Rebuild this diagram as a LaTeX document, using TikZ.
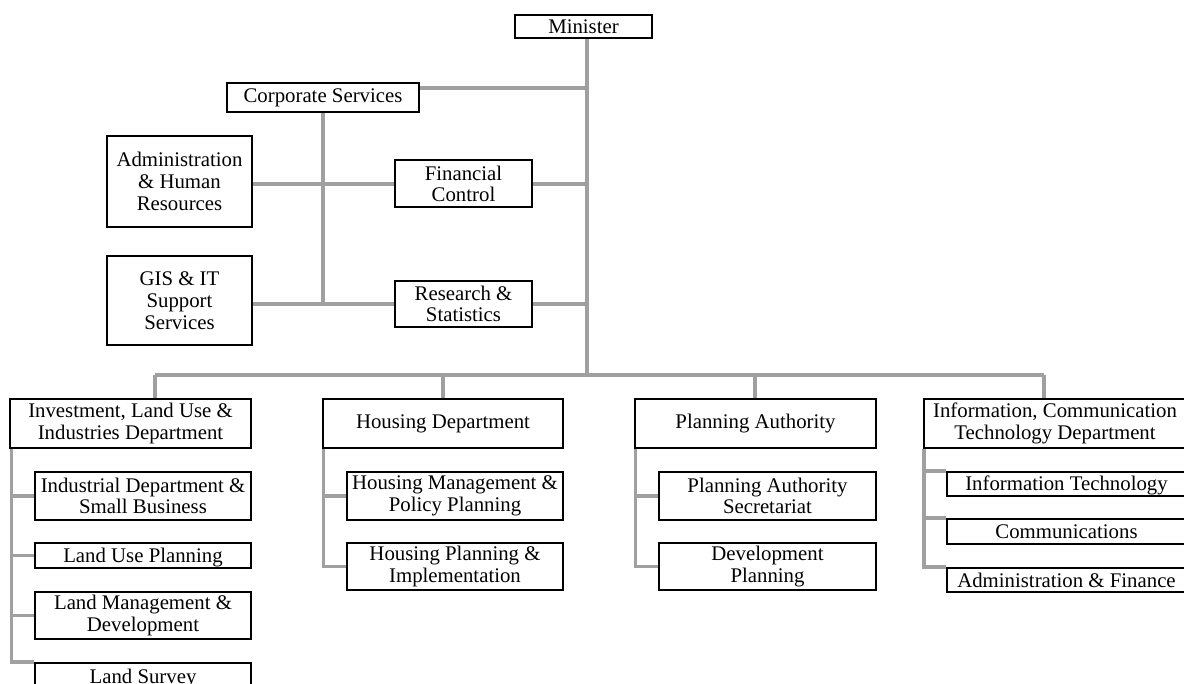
\documentclass[tikz,border=0pt]{standalone}
\usepackage{fontspec}
\setmainfont{Liberation Serif}
\usepackage{tikz}

\definecolor{linkgray}{RGB}{160,160,160}

\tikzset{
  unit/.style={draw, line width=2pt, inner sep=0pt, align=center,
    font=\fontsize{20.8}{21.7}\selectfont},
  slim/.style={text height=14pt, text depth=0pt},
  link/.style={draw=linkgray, line width=3.6pt},
}

\begin{document}
\begin{tikzpicture}[x=1pt, y=-1pt]

    \useasboundingbox (0,0) rectangle (1184,684);
    \clip (0,0) rectangle (1184,684);

    \node[unit, minimum width=137pt, minimum height=23pt] (minister) at (583.5,26.5) {Minister};

    \node[unit, minimum width=192pt, minimum height=29pt] (corp) at (323,97.5) {Corporate Services};

    \node[unit, minimum width=145pt, minimum height=91pt] (admhr) at (179.5,181.5) {Administration\\ \& Human\\ Resources};

    \node[unit, minimum width=137pt, minimum height=47pt] (fin) at (463.5,184) {Financial\\ Control};

    \node[unit, minimum width=145pt, minimum height=89pt] (gis) at (179.5,300.5) {GIS \& IT\\ Support\\ Services};

    \node[unit, minimum width=137pt, minimum height=46pt] (res) at (463.5,304) {Research \&\\ Statistics};




    \begin{scope}[xshift=10pt]

      \node[unit, minimum width=241pt, minimum height=49pt] (inv) at (120.5,423.5) {Investment, Land Use \&\\ Industries Department};
      \coordinate (invdrop) at (145,375);

      \node[unit, minimum width=216pt, minimum height=48pt] (isb) at (133,496) {Industrial Department \&\\ Small Business};
      \node[unit, slim, minimum width=216pt, minimum height=25pt] (lup) at (133,555.5) {Land Use Planning};
      \node[unit, minimum width=216pt, minimum height=47pt] (lmd) at (133,615.5) {Land Management \&\\ Development};
      \node[unit, minimum width=216pt, minimum height=48pt] (ls) at (133,687) {Land Survey\\ \phantom{L}};

      \draw[link] ([xshift=2.5pt]inv.south west) |- (isb.west);
      \draw[link] ([xshift=2.5pt]inv.south west) |- (lup.west);
      \draw[link] ([xshift=2.5pt]inv.south west) |- (lmd.west);
      \draw[link] ([xshift=2.5pt]inv.south west) |- (ls.north west);

    \end{scope}



    \begin{scope}[xshift=323pt]

      \node[unit, minimum width=240pt, minimum height=49pt] (hou) at (120,423.5) {Housing Department};
      \coordinate (houdrop) at (120,375);

      \node[unit, minimum width=216pt, minimum height=48pt] (hmp) at (132,496) {Housing Management \&\\ Policy Planning};
      \node[unit, minimum width=216pt, minimum height=47pt] (hpi) at (132,566.5) {Housing Planning \&\\ Implementation};

      \draw[link] ([xshift=1.5pt]hou.south west) |- (hmp.west);
      \draw[link] ([xshift=1.5pt]hou.south west) |- (hpi.west);

    \end{scope}



    \begin{scope}[xshift=635pt]

      \node[unit, minimum width=241pt, minimum height=49pt] (pla) at (120.5,423.5) {Planning Authority};
      \coordinate (pladrop) at (120,375);

      \node[unit, minimum width=217pt, minimum height=48pt] (pas) at (132.5,496) {Planning Authority\\ Secretariat};
      \node[unit, minimum width=217pt, minimum height=47pt] (dpl) at (132.5,566.5) {Development\\ Planning};

      \draw[link] ([xshift=1.5pt]pla.south west) |- (pas.west);
      \draw[link] ([xshift=1.5pt]pla.south west) |- (dpl.west);

    \end{scope}



    \begin{scope}[xshift=924pt]

      \node[unit, minimum width=262pt, minimum height=49pt] (ict) at (131,423.5) {Information, Communication\\ Technology Department};
      \coordinate (ictdrop) at (120,375);

      \node[unit, slim, minimum width=239pt, minimum height=24pt] (it) at (142.5,484) {Information Technology};
      \node[unit, slim, minimum width=239pt, minimum height=25pt] (com) at (142.5,531.5) {Communications};
      \node[unit, slim, minimum width=239pt, minimum height=24pt] (adf) at (142.5,580) {Administration \& Finance};

      \draw[link] ([xshift=1pt]ict.south west) |- (it.north west);
      \draw[link] ([xshift=1pt]ict.south west) |- (com.north west);
      \draw[link] ([xshift=1pt]ict.south west) |- (adf.north west);

    \end{scope}




    \coordinate (bus) at (587,375);
    \coordinate (corpjoin) at (587,88);

    \draw[link] (minister.south -| bus) -- (bus);
    \draw[link] (corp.east |- corpjoin) -- (corpjoin);
    \draw[link] (corp.south) -- (corp.south |- res);
    \draw[link] (admhr.east |- fin) -- (fin.west);
    \draw[link] (fin.east) -- (fin -| bus);
    \draw[link] (gis.east |- res) -- (res.west);
    \draw[link] (res.east) -- (res -| bus);

    \draw[link] (invdrop) -- (ictdrop);
    \foreach \d/\n in {invdrop/inv, houdrop/hou, pladrop/pla, ictdrop/ict}
      \draw[link] (\d) -- (\d |- \n.north);

  \end{tikzpicture}
\end{document}
